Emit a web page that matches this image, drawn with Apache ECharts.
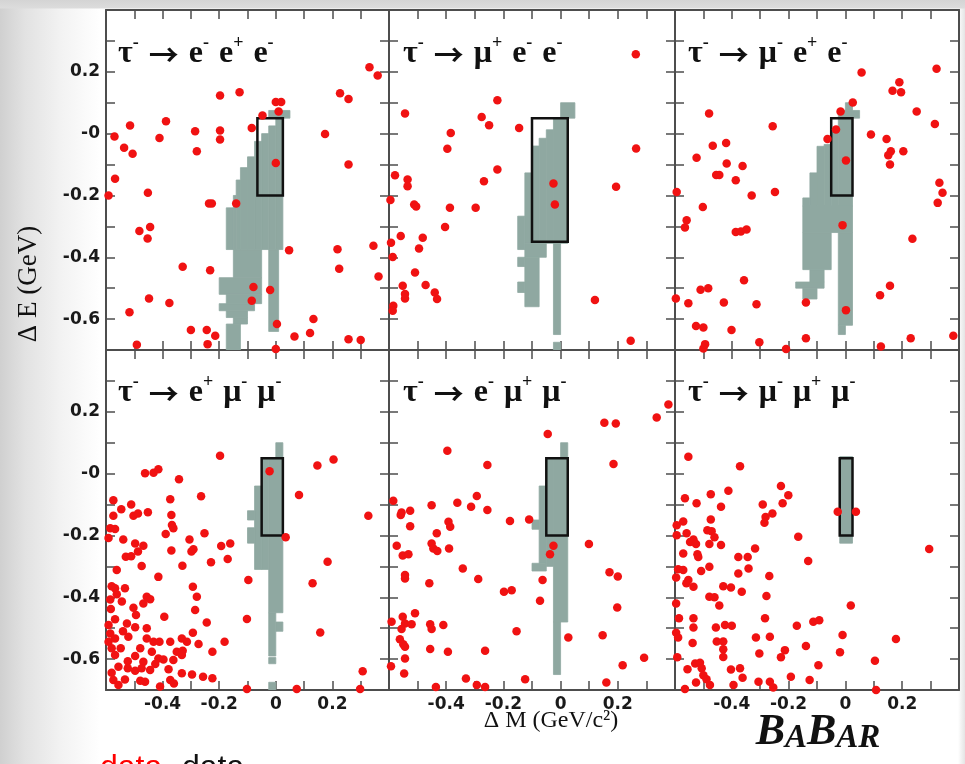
<!DOCTYPE html>
<html><head><meta charset="utf-8">
<script src="https://cdn.jsdelivr.net/npm/echarts@6/dist/echarts.min.js"></script>
<style>
html,body{margin:0;padding:0;background:#fff;}
#bg{position:absolute;left:0;top:0;width:965px;height:764px;background:
 linear-gradient(to bottom, #d4d4d4 0px, #dcdcdc 8px, rgba(255,255,255,0) 9px),
 linear-gradient(to right, #d0d0d0 0px, #e2e2e2 25px, #f2f2f2 60px, #ffffff 100px, #ffffff 958px, #e4e4e4 965px);}
#chart{position:absolute;left:0;top:0;width:965px;height:764px;}
</style></head><body><div id="bg"></div><div id="chart"></div>
<script>
// ---------------- data ----------------
const channels = ['τ^- → e^- e^+ e^-', 'τ^- → μ^+ e^- e^-', 'τ^- → μ^- e^+ e^-',
                  'τ^- → e^+ μ^- μ^-', 'τ^- → e^- μ^+ μ^-', 'τ^- → μ^- μ^+ μ^-'];
const xTickValues = [-0.4, -0.2, 0, 0.2];
const xTickLabels = ['-0.4', '-0.2', '0', '0.2'];
const yTickValues = [0.2, 0, -0.2, -0.4, -0.6];
const yTickLabels = ['0.2', '-0', '-0.2', '-0.4', '-0.6'];

// signal boxes [dMlo, dMhi, dElo, dEhi]
const boxes = [
  [-0.065, 0.025, -0.2, 0.05], [-0.1, 0.025, -0.35, 0.05], [-0.05, 0.025, -0.2, 0.05],
  [-0.05, 0.025, -0.2, 0.05], [-0.05, 0.025, -0.2, 0.05], [-0.02, 0.025, -0.2, 0.05]
];

// signal MC occupancy blocks [dMlo, dMhi, dElo, dEhi]
const mc1 = [
  [-0.025,0.05,0.05,0.075],[0,0.025,-0.375,0.05],[-0.025,0,-0.375,0.025],[-0.05,-0.025,-0.375,0.0],
  [-0.025,0.01,-0.64,-0.375],
  [-0.075,-0.05,-0.375,-0.025],[-0.1,-0.075,-0.375,-0.075],[-0.125,-0.1,-0.375,-0.11],
  [-0.14,-0.125,-0.375,-0.15],[-0.15,-0.14,-0.375,-0.2],[-0.175,-0.15,-0.375,-0.24],
  [-0.15,-0.05,-0.466,-0.375],[-0.2,-0.05,-0.52,-0.466],[-0.175,-0.05,-0.55,-0.52],
  [-0.2,-0.075,-0.573,-0.55],[-0.175,-0.1,-0.595,-0.573],[-0.15,-0.1,-0.616,-0.595],
  [-0.175,-0.125,-0.7,-0.616]
];
const mc2 = [
  [0,0.05,0.05,0.1],[-0.025,0.025,-0.355,0.05],[-0.05,-0.025,-0.355,0.0125],
  [-0.075,-0.05,-0.355,-0.015],[-0.1,-0.075,-0.355,-0.04],[-0.125,-0.1,-0.355,-0.127],
  [-0.15,-0.125,-0.375,-0.267],[-0.125,-0.05,-0.4,-0.355],[-0.125,-0.075,-0.56,-0.4],
  [-0.15,-0.125,-0.43,-0.4],[-0.15,-0.125,-0.514,-0.48],
  [-0.025,0,-0.65,-0.355],[-0.025,0,-0.7,-0.675]
];
const mc3 = [
  [0,0.025,0.075,0.1],[-0.025,0.05,0.05,0.075],[-0.025,0.025,-0.234,0.05],
  [-0.05,-0.025,-0.234,0.0125],[-0.075,-0.05,-0.234,-0.035],[-0.1,-0.075,-0.234,-0.041],
  [-0.125,-0.1,-0.234,-0.127],[-0.15,-0.125,-0.234,-0.208],
  [-0.15,0.025,-0.32,-0.234],[-0.025,0.025,-0.62,-0.32],[-0.025,0,-0.65,-0.62],
  [-0.15,-0.05,-0.44,-0.32],[-0.125,-0.075,-0.48,-0.44],[-0.175,-0.075,-0.5,-0.48],
  [-0.15,-0.1,-0.535,-0.5]
];
const mc4 = [
  [0,0.025,0.05,0.1],[-0.025,0.025,-0.45,0.05],[-0.05,-0.025,-0.31,0.05],
  [-0.075,-0.05,-0.31,-0.04],[-0.1,-0.075,-0.15,-0.12],[-0.1,-0.075,-0.225,-0.175],
  [-0.025,0,-0.59,-0.45],[0,0.025,-0.51,-0.48],[-0.025,0,-0.615,-0.595],[-0.025,0,-0.7,-0.675]
];
const mc5 = [
  [0,0.025,0.05,0.1],[-0.025,0.025,-0.48,0.05],[-0.05,-0.025,-0.3,0.05],
  [-0.075,-0.05,-0.29,-0.04],[-0.1,-0.05,-0.315,-0.29],[-0.1,-0.075,-0.18,-0.15],
  [-0.025,0,-0.65,-0.48]
];
const mc6 = [[-0.02,0.025,-0.225,0.055]];

// data events [dM, dE]
const ev1 = [[0.331,0.215],[0.36,0.188],[-0.197,0.123],[-0.128,0.134],[0,0.102],[0.019,0.102],[0.01,0.072],[-0.047,0.059],[0.227,0.131],[0.257,0.112],[-0.515,0.026],[-0.388,0.04],[-0.57,-0.009],[-0.411,-0.014],[-0.285,0.008],[-0.197,0.01],[-0.197,-0.019],[-0.085,0.018],[0.174,-0.001],[-0.536,-0.046],[-0.506,-0.065],[-0.279,-0.057],[0,-0.095],[0.257,-0.1],[-0.568,-0.146],[-0.591,-0.2],[-0.452,-0.191],[-0.236,-0.226],[-0.226,-0.226],[-0.14,-0.226],[-0.482,-0.315],[-0.444,-0.302],[-0.453,-0.339],[0.047,-0.377],[0.218,-0.374],[0.345,-0.363],[-0.329,-0.431],[-0.232,-0.442],[0.224,-0.437],[0.363,-0.462],[-0.079,-0.496],[-0.02,-0.506],[-0.085,-0.541],[-0.448,-0.533],[-0.376,-0.548],[-0.517,-0.578],[0.133,-0.6],[0.004,-0.616],[-0.3,-0.635],[-0.244,-0.635],[-0.214,-0.654],[-0.241,-0.681],[-0.491,-0.683],[0.066,-0.656],[0.121,-0.645],[0.257,-0.665],[0.3,-0.668],[0,-0.697]];
const ev2 = [[0.263,0.257],[-0.221,0.108],[-0.544,0.065],[-0.276,0.054],[-0.25,0.027],[-0.145,0.018],[-0.384,0.002],[-0.396,-0.049],[0.264,-0.048],[-0.221,-0.116],[-0.579,-0.135],[-0.268,-0.154],[-0.535,-0.148],[-0.535,-0.17],[-0.025,-0.161],[0.194,-0.172],[-0.595,-0.215],[-0.512,-0.229],[-0.505,-0.236],[-0.387,-0.24],[-0.297,-0.24],[-0.02,-0.229],[-0.404,-0.302],[-0.559,-0.331],[-0.482,-0.337],[-0.593,-0.353],[-0.495,-0.372],[-0.587,-0.399],[-0.509,-0.449],[-0.472,-0.49],[-0.552,-0.492],[-0.544,-0.519],[-0.544,-0.533],[-0.44,-0.514],[-0.432,-0.535],[0.12,-0.538],[-0.585,-0.557],[-0.587,-0.573],[0.245,-0.67]];
const ev3 = [[0.321,0.21],[0.057,0.198],[0.19,0.166],[0.166,0.139],[0.196,0.134],[0.026,0.101],[-0.017,0.072],[-0.48,0.065],[0.251,0.072],[-0.256,0.024],[0.315,0.031],[-0.033,0.013],[0.09,-0.003],[-0.063,-0.017],[0.145,-0.017],[-0.467,-0.039],[-0.42,-0.03],[0.16,-0.057],[0.151,-0.07],[0.204,-0.057],[-0.524,-0.078],[0.002,-0.087],[-0.418,-0.097],[-0.362,-0.105],[0.157,-0.1],[-0.455,-0.134],[-0.444,-0.134],[-0.386,-0.151],[0.331,-0.159],[0.342,-0.191],[-0.594,-0.189],[-0.33,-0.2],[-0.248,-0.189],[0.325,-0.224],[-0.502,-0.237],[-0.559,-0.28],[-0.565,-0.304],[-0.386,-0.318],[-0.368,-0.317],[-0.348,-0.31],[-0.01,-0.296],[0.236,-0.34],[-0.357,-0.474],[0.157,-0.492],[-0.51,-0.505],[-0.483,-0.5],[0.122,-0.523],[-0.597,-0.533],[-0.553,-0.549],[-0.428,-0.546],[-0.313,-0.552],[-0.139,-0.546],[0.002,-0.571],[-0.526,-0.622],[-0.5,-0.627],[-0.401,-0.635],[-0.303,-0.675],[-0.494,-0.681],[-0.5,-0.695],[-0.209,-0.697],[-0.139,-0.662],[0.125,-0.689],[0.23,-0.662],[0.38,-0.654]];
const ev4 = [[-0.197,0.058],[0.204,0.046],[0.147,0.026],[-0.462,0.001],[-0.432,0.003],[-0.415,0.014],[-0.022,0.008],[-0.342,-0.018],[0.082,-0.069],[-0.264,-0.073],[-0.574,-0.086],[-0.373,-0.083],[0.327,-0.136],[-0.511,-0.1],[-0.546,-0.115],[-0.503,-0.136],[-0.487,-0.129],[-0.452,-0.125],[-0.574,-0.136],[-0.369,-0.134],[-0.585,-0.177],[-0.568,-0.179],[-0.367,-0.166],[-0.362,-0.177],[-0.389,-0.195],[-0.252,-0.193],[0.035,-0.206],[-0.591,-0.208],[-0.539,-0.213],[-0.305,-0.213],[-0.291,-0.245],[-0.193,-0.234],[-0.161,-0.226],[-0.497,-0.226],[-0.468,-0.233],[-0.487,-0.252],[-0.53,-0.269],[-0.511,-0.267],[-0.369,-0.249],[-0.298,-0.252],[-0.17,-0.276],[-0.229,-0.287],[0.183,-0.285],[-0.474,-0.299],[-0.33,-0.298],[-0.562,-0.312],[-0.415,-0.334],[-0.097,-0.344],[0.13,-0.355],[-0.58,-0.364],[-0.568,-0.371],[-0.533,-0.371],[-0.562,-0.39],[-0.293,-0.366],[-0.456,-0.398],[-0.444,-0.406],[-0.279,-0.398],[-0.585,-0.407],[-0.544,-0.414],[-0.468,-0.42],[-0.503,-0.434],[-0.285,-0.441],[-0.583,-0.438],[-0.494,-0.457],[-0.394,-0.463],[-0.102,-0.47],[-0.568,-0.471],[-0.244,-0.482],[-0.591,-0.49],[-0.526,-0.485],[-0.497,-0.497],[-0.456,-0.5],[-0.54,-0.51],[-0.585,-0.517],[0.157,-0.514],[-0.568,-0.533],[-0.521,-0.528],[-0.456,-0.533],[-0.432,-0.544],[-0.293,-0.515],[-0.332,-0.533],[-0.591,-0.544],[-0.411,-0.544],[-0.373,-0.544],[-0.314,-0.544],[-0.273,-0.551],[-0.181,-0.544],[-0.58,-0.565],[-0.548,-0.565],[-0.479,-0.565],[-0.438,-0.576],[-0.35,-0.576],[-0.329,-0.573],[-0.224,-0.576],[-0.568,-0.587],[-0.497,-0.59],[-0.415,-0.598],[-0.332,-0.587],[-0.523,-0.607],[-0.468,-0.609],[-0.397,-0.601],[-0.362,-0.603],[-0.556,-0.625],[-0.426,-0.616],[-0.58,-0.644],[-0.523,-0.63],[-0.497,-0.638],[-0.474,-0.63],[-0.444,-0.635],[-0.379,-0.633],[-0.332,-0.646],[-0.296,-0.65],[-0.257,-0.657],[-0.224,-0.662],[0.307,-0.639],[-0.574,-0.668],[-0.533,-0.666],[-0.479,-0.67],[-0.462,-0.673],[-0.373,-0.668],[-0.36,-0.679],[-0.556,-0.684],[-0.409,-0.689],[-0.102,-0.697],[0.074,-0.697],[0.298,-0.697]];
const ev5 = [[0.377,0.224],[0.336,0.182],[0.153,0.165],[0.193,0.162],[-0.045,0.128],[-0.396,0.074],[-0.256,0.028],[0.185,0.031],[-0.293,-0.072],[-0.585,-0.088],[-0.361,-0.094],[-0.451,-0.102],[-0.313,-0.107],[-0.256,-0.118],[-0.556,-0.126],[-0.526,-0.12],[-0.559,-0.134],[-0.177,-0.153],[-0.11,-0.148],[-0.392,-0.156],[-0.386,-0.172],[-0.526,-0.17],[-0.433,-0.193],[-0.573,-0.233],[-0.451,-0.226],[-0.445,-0.242],[-0.431,-0.25],[-0.39,-0.242],[-0.552,-0.265],[-0.532,-0.261],[-0.025,-0.233],[-0.037,-0.261],[0.099,-0.228],[-0.342,-0.307],[-0.544,-0.328],[-0.544,-0.339],[-0.288,-0.341],[-0.063,-0.344],[0.171,-0.319],[0.2,-0.333],[-0.459,-0.355],[-0.198,-0.382],[-0.171,-0.377],[-0.072,-0.411],[0.198,-0.433],[-0.509,-0.452],[-0.552,-0.463],[-0.591,-0.479],[-0.544,-0.485],[-0.521,-0.487],[-0.456,-0.487],[-0.41,-0.49],[-0.451,-0.503],[-0.556,-0.503],[-0.154,-0.51],[0.147,-0.523],[0.027,-0.53],[-0.562,-0.536],[-0.55,-0.552],[-0.544,-0.56],[-0.456,-0.567],[-0.394,-0.576],[-0.264,-0.573],[-0.544,-0.598],[0.292,-0.596],[0.217,-0.62],[-0.593,-0.623],[-0.547,-0.647],[-0.331,-0.663],[-0.124,-0.665],[0.16,-0.676],[-0.436,-0.69],[-0.293,-0.684],[-0.264,-0.69]];
const ev6 = [[-0.553,0.055],[-0.371,0.024],[-0.227,-0.04],[-0.201,-0.07],[-0.412,-0.055],[-0.565,-0.08],[-0.474,-0.067],[-0.524,-0.096],[-0.438,-0.107],[-0.291,-0.1],[-0.221,-0.096],[-0.257,-0.129],[-0.281,-0.14],[-0.285,-0.159],[-0.027,-0.123],[0.037,-0.123],[-0.594,-0.167],[-0.571,-0.155],[-0.474,-0.148],[-0.486,-0.183],[-0.471,-0.186],[-0.559,-0.193],[-0.594,-0.199],[-0.535,-0.213],[-0.547,-0.221],[-0.526,-0.228],[-0.461,-0.206],[-0.438,-0.231],[-0.479,-0.228],[-0.166,-0.204],[-0.318,-0.242],[0.295,-0.244],[-0.571,-0.258],[-0.521,-0.261],[-0.518,-0.27],[-0.377,-0.27],[-0.344,-0.27],[-0.131,-0.283],[-0.589,-0.309],[-0.571,-0.312],[-0.479,-0.301],[-0.508,-0.315],[-0.377,-0.323],[-0.341,-0.307],[-0.268,-0.331],[-0.596,-0.336],[-0.553,-0.344],[-0.535,-0.366],[-0.56,-0.355],[-0.43,-0.364],[-0.403,-0.368],[-0.365,-0.382],[-0.596,-0.42],[-0.479,-0.398],[-0.461,-0.4],[-0.444,-0.427],[-0.278,-0.396],[0.019,-0.427],[-0.586,-0.468],[-0.535,-0.468],[-0.283,-0.468],[-0.171,-0.492],[-0.113,-0.479],[-0.092,-0.474],[-0.424,-0.49],[-0.4,-0.492],[-0.456,-0.498],[-0.535,-0.498],[-0.596,-0.515],[-0.589,-0.53],[-0.538,-0.548],[-0.453,-0.543],[-0.43,-0.543],[-0.315,-0.53],[-0.266,-0.528],[-0.01,-0.522],[0.178,-0.535],[-0.43,-0.568],[-0.213,-0.571],[-0.139,-0.558],[-0.019,-0.578],[-0.303,-0.582],[-0.227,-0.594],[-0.43,-0.593],[-0.592,-0.594],[0.104,-0.605],[-0.095,-0.62],[-0.529,-0.614],[-0.512,-0.612],[-0.556,-0.633],[-0.506,-0.63],[-0.403,-0.634],[-0.371,-0.63],[-0.5,-0.652],[-0.362,-0.66],[-0.526,-0.676],[-0.489,-0.665],[-0.477,-0.684],[-0.306,-0.673],[-0.266,-0.673],[-0.254,-0.692],[-0.192,-0.657],[-0.126,-0.668],[-0.565,-0.697],[0.108,-0.7],[-0.394,-0.684]];

const mcBlocks = [mc1, mc2, mc3, mc4, mc5, mc6];
const events = [ev1, ev2, ev3, ev4, ev5, ev6];

// ---------------- layout / style ----------------
const colLeft = [106, 389, 675], colWidth = [283, 286, 284];
const rowTop = [10, 350], rowHeight = [340, 340];
const titleOffset = [12, 14, 13];
const axisColor = '#4d4d4d';
const mcColor = '#8fa8a1';
const dotColor = '#f01212';

function findLabel(v, vals, labels) {
  for (let i = 0; i < vals.length; i++) if (Math.abs(v - vals[i]) < 1e-6) return labels[i];
  return '';
}
function richTitle(s) {
  return s.split(' ').map(w => {
    if (w === '→') return '{a|→}';
    const k = w.indexOf('^');
    if (k < 0) return '{t|' + w + '}';
    return '{t|' + w.slice(0, k) + '}{s|' + w.slice(k + 1) + '}';
  }).join('{g| }');
}
const serif = "'Liberation Serif','Times New Roman',serif";
const titleRich = {
  t: {fontFamily: serif, fontSize: 32, color: '#111', lineHeight: 36, verticalAlign: 'bottom'},
  a: {fontFamily: "'Noto Sans CJK SC'", fontSize: 30, color: '#111', lineHeight: 36, verticalAlign: 'bottom'},
  s: {fontFamily: serif, fontSize: 18, color: '#111', lineHeight: 18, verticalAlign: 'top'},
  g: {fontFamily: serif, fontSize: 32, width: 10, lineHeight: 36}
};

const grid = [], xAxis = [], yAxis = [], series = [], title = [];
function rectRender(fillStyle) {
  return function (params, api) {
    const a = api.coord([api.value(0), api.value(3)]);
    const b = api.coord([api.value(1), api.value(2)]);
    return {type: 'rect', shape: {x: a[0], y: a[1], width: b[0] - a[0], height: b[1] - a[1]}, style: fillStyle};
  };
}
for (let i = 0; i < 6; i++) {
  const r = Math.floor(i / 3), c = i % 3;
  grid.push({left: colLeft[c], top: rowTop[r], width: colWidth[c], height: rowHeight[r], containLabel: false});
  const common = {gridIndex: i, type: 'value', min: -0.6, max: 0.4, interval: 0.1,
    axisLine: {show: true, onZero: false, lineStyle: {color: axisColor, width: 2}},
    axisTick: {show: true, inside: true, length: 9, lineStyle: {color: axisColor, width: 1.5}},
    splitLine: {show: false}};
  xAxis.push(Object.assign({}, common, {position: 'bottom',
    axisLabel: {show: r === 1, margin: 6, color: '#1a1a1a', fontFamily: 'DejaVu Sans', fontWeight: 'bold', fontSize: 17,
      showMinLabel: true, showMaxLabel: true, formatter: v => findLabel(v, xTickValues, xTickLabels)}}));
  xAxis.push(Object.assign({}, common, {position: 'top', axisLabel: {show: false}}));
  const ycommon = Object.assign({}, common, {min: -0.7, max: 0.4});
  yAxis.push(Object.assign({}, ycommon, {position: 'left',
    axisLabel: {show: c === 0, margin: 6, color: '#1a1a1a', fontFamily: 'DejaVu Sans', fontWeight: 'bold', fontSize: 17,
      showMinLabel: true, showMaxLabel: true, formatter: v => findLabel(v, yTickValues, yTickLabels)}}));
  yAxis.push(Object.assign({}, ycommon, {position: 'right', axisLabel: {show: false}}));

  series.push({type: 'custom', name: 'signal MC', xAxisIndex: 2 * i, yAxisIndex: 2 * i, clip: true,
    encode: {x: [0, 1], y: [2, 3]}, data: mcBlocks[i],
    renderItem: rectRender({fill: mcColor, stroke: mcColor, lineWidth: 0.8}), z: 2, silent: true});
  series.push({type: 'custom', name: 'box', xAxisIndex: 2 * i, yAxisIndex: 2 * i, clip: true,
    encode: {x: [0, 1], y: [2, 3]}, data: [boxes[i]],
    renderItem: rectRender({fill: 'none', stroke: '#111', lineWidth: 2.5}), z: 3, silent: true});
  series.push({type: 'scatter', name: 'data', xAxisIndex: 2 * i, yAxisIndex: 2 * i, data: events[i],
    symbolSize: 8.5, itemStyle: {color: dotColor, opacity: 1}, z: 4, silent: true, clip: true});

  title.push({text: richTitle(channels[i]), left: colLeft[c] + titleOffset[c], top: rowTop[r] + 24 + (r === 1 ? -1 : 0),
    padding: 0, textStyle: {rich: titleRich}});
}

const chart = echarts.init(document.getElementById('chart'), null, {renderer: 'canvas'});
chart.setOption({
  backgroundColor: 'transparent',
  animation: false,
  title, grid, xAxis, yAxis, series,
  graphic: [
    {type: 'text', x: 29, y: 284, rotation: Math.PI / 2,
      style: {text: 'Δ E (GeV)', font: "27px 'Liberation Serif'", fill: '#111', align: 'center', verticalAlign: 'middle'}},
    {type: 'text', x: 551, y: 721,
      style: {text: 'Δ M (GeV/c²)', font: "24px 'Liberation Serif'", fill: '#111', align: 'center', verticalAlign: 'middle'}},
    {type: 'text', x: 818, y: 733,
      style: {text: '{b|B}{s|A}{b|B}{s|AR}', align: 'center', verticalAlign: 'middle',
        rich: {b: {font: "italic bold 44px 'Liberation Serif'", fill: '#111', lineHeight: 44, verticalAlign: 'bottom'},
               s: {font: "italic bold 33px 'Liberation Serif'", fill: '#111', lineHeight: 33, verticalAlign: 'bottom'}}}},
    {type: 'text', x: 100, y: 784,
      style: {text: 'data', font: "32px 'Liberation Sans'", fill: '#ff0000', align: 'left', verticalAlign: 'bottom'}},
    {type: 'text', x: 182, y: 784,
      style: {text: 'data', font: "32px 'Liberation Sans'", fill: '#111', align: 'left', verticalAlign: 'bottom'}}
  ]
});
</script></body></html>
